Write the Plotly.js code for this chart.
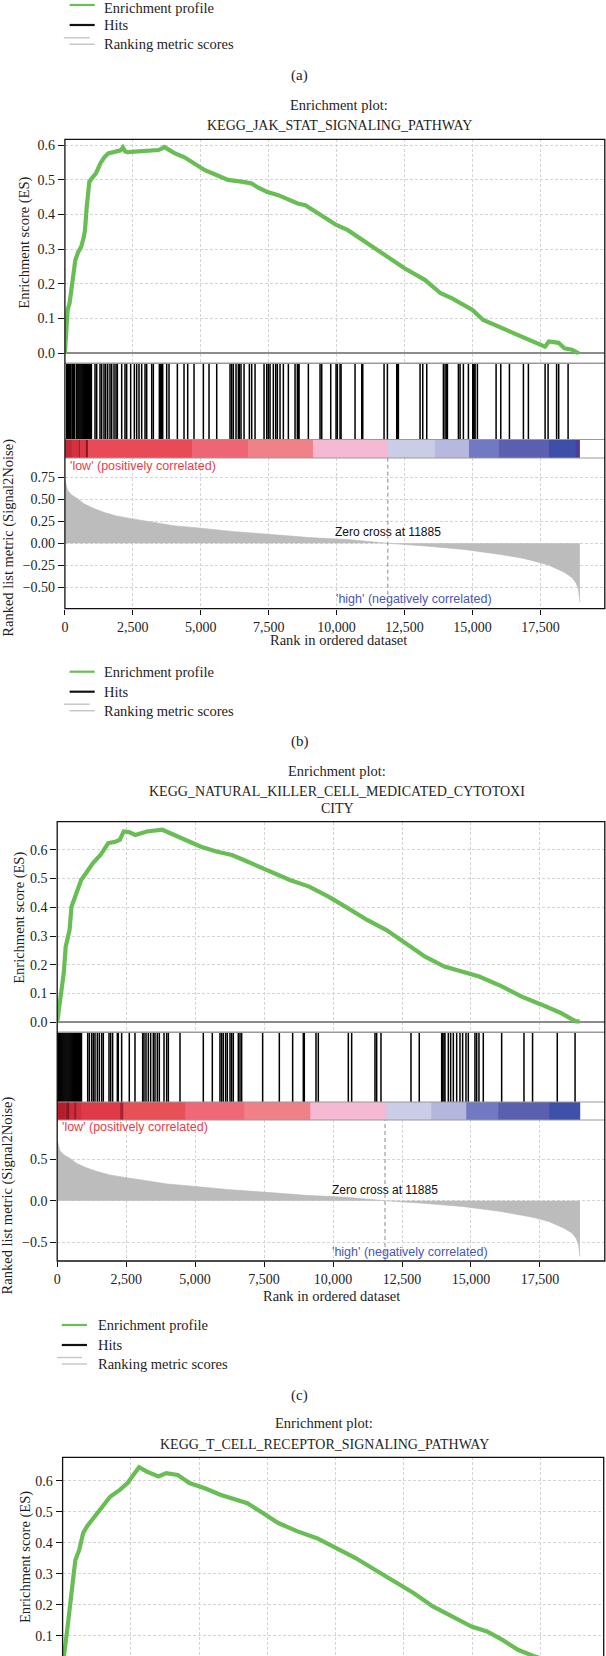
<!DOCTYPE html>
<html><head><meta charset="utf-8">
<script src="https://cdn.plot.ly/plotly-3.0.1.min.js"></script>
<style>html,body{margin:0;padding:0;background:#fff;}#chart{width:606px;height:1656px;}</style>
</head><body><div id="chart"></div>
<script>
// ---------------- DATA ----------------
const xTicks = [0, 2500, 5000, 7500, 10000, 12500, 15000, 17500];
const zeroCross = 11885;
const legendLabels = ['Enrichment profile', 'Hits', 'Ranking metric scores'];
const panelLabels = ['(a)', '(b)', '(c)'];
const plotTitle = 'Enrichment plot:';
const pathwayB = ['KEGG_JAK_STAT_SIGNALING_PATHWAY'];
const pathwayC = ['KEGG_NATURAL_KILLER_CELL_MEDICATED_CYTOTOXI', 'CITY'];
const pathwayD = ['KEGG_T_CELL_RECEPTOR_SIGNALING_PATHWAY'];
const esTitle = 'Enrichment score (ES)';
const metricTitle = 'Ranked list metric (Signal2Noise)';
const rankTitle = 'Rank in ordered dataset';
const lowLabel = "'low' (positively correlated)";
const highLabel = "'high' (negatively correlated)";

// ranked list metric (same ranked dataset in every panel)
const metricRank = [0, 40, 100, 242, 455, 700, 1025, 1450, 1900, 2450, 2830, 3300, 4000, 4900, 6150, 7600, 9000, 10500, 11885, 13260, 14700, 16100, 16850, 17250, 17820, 18380, 18670, 18810, 18900, 18930, 18952];
const metricValue = [0.72, 0.66, 0.60, 0.55, 0.51, 0.45, 0.40, 0.35, 0.31, 0.28, 0.26, 0.235, 0.20, 0.175, 0.135, 0.10, 0.065, 0.04, 0, -0.03, -0.07, -0.13, -0.17, -0.20, -0.25, -0.33, -0.39, -0.45, -0.52, -0.60, -0.67];

// (b) JAK-STAT
const esRankB = [0, 60, 100, 171, 250, 384, 480, 598, 680, 740, 800, 900, 1000, 1150, 1309, 1450, 1594, 1878, 2050, 2134, 2220, 2305, 2800, 3300, 3444, 3560, 3657, 3800, 4013, 4400, 4724, 5009, 5151, 5578, 6004, 6500, 6858, 7100, 7426, 7853, 8200, 8567, 8850, 9400, 9988, 10414, 11100, 11836, 12500, 13259, 13828, 14250, 14682, 15000, 15394, 16105, 16674, 17244, 17670, 17813, 18169, 18383, 18667, 18910];
const esValueB = [0, 0.10, 0.125, 0.144, 0.19, 0.269, 0.29, 0.307, 0.33, 0.355, 0.42, 0.495, 0.505, 0.52, 0.548, 0.565, 0.576, 0.581, 0.585, 0.594, 0.582, 0.58, 0.582, 0.584, 0.586, 0.59, 0.595, 0.588, 0.578, 0.565, 0.55, 0.538, 0.528, 0.514, 0.50, 0.495, 0.49, 0.478, 0.466, 0.456, 0.445, 0.432, 0.427, 0.40, 0.37, 0.355, 0.318, 0.278, 0.245, 0.211, 0.173, 0.158, 0.139, 0.125, 0.096, 0.072, 0.053, 0.034, 0.019, 0.034, 0.03, 0.014, 0.01, 0];
const hitsB = [66, 100, 135, 170, 205, 260, 290, 320, 350, 420, 450, 485, 520, 555, 590, 625, 660, 695, 730, 765, 800, 835, 870, 905, 940, 975,
  1108, 1170, 1292, 1354, 1439, 1501, 1575, 1660, 1722, 1808, 1881, 1930, 2090, 2212, 2273, 2420, 2556, 2642, 2728, 2826, 2949, 3010, 3194, 3255,
  3476, 3525, 3562, 3599, 3746, 3832, 4139, 4384, 4519, 4752, 5096, 5304, 5587, 6077, 6139, 6199, 6298, 6384, 6420, 6482, 6593, 6789, 6875, 6998,
  7329, 7428, 7487, 7550, 7671, 7759, 7818, 7918, 8040, 8224, 8470, 8555, 8592, 8617, 8960, 9390, 9452, 9783, 9979, 10027, 10126, 10163, 10678,
  10925, 10962, 11746, 11869, 12213, 12237, 12273, 13071, 13170, 13317, 13930, 13992, 14054, 14078, 14482, 14544, 14666, 14850, 15011, 15035,
  15060, 15097, 15181, 15869, 16041, 16360, 16875, 17058, 17673, 17783, 18096, 18173, 18519];
const bandEdgesB = [0, 270, 500, 560, 761, 860, 4666, 6750, 9143, 11869, 13622, 14850, 15955, 17814, 18807, 18952];

// (c) NK cell mediated cytotoxicity
const esRankC = [0, 98, 168, 238, 308, 378, 448, 518, 658, 869, 1079, 1289, 1569, 1849, 2100, 2270, 2410, 2600, 2830, 3050, 3250, 3811, 4231, 4600, 4932, 5212, 5772, 6333, 6613, 7000, 7454, 8434, 9135, 9835, 10536, 11236, 11937, 12637, 13338, 14038, 14739, 15299, 16140, 16840, 17540, 18241, 18802, 18942];
const esValueC = [0, 0.066, 0.112, 0.171, 0.263, 0.298, 0.321, 0.402, 0.437, 0.495, 0.524, 0.553, 0.582, 0.623, 0.628, 0.635, 0.664, 0.662, 0.652, 0.66, 0.664, 0.67, 0.652, 0.635, 0.623, 0.611, 0.594, 0.582, 0.571, 0.555, 0.536, 0.495, 0.472, 0.437, 0.397, 0.356, 0.321, 0.275, 0.228, 0.194, 0.176, 0.159, 0.124, 0.089, 0.062, 0.033, 0.003, 0.003];
const hitsC = [4, 40, 75, 110, 145, 180, 215, 250, 285, 320, 355, 390, 425, 460, 495, 530, 565, 600, 635, 670, 705, 740, 775, 810, 845, 880,
  1105, 1165, 1250, 1310, 1370, 1455, 1527, 1612, 1672, 1878, 1938, 2010, 2180, 2215, 2336, 2614, 2820, 3098, 3146, 3219, 3303, 3388, 3485, 3545,
  3630, 3702, 3872, 3968, 4029, 4452, 5297, 5623, 5901, 5962, 6022, 6107, 6167, 6264, 6324, 6385, 6566, 6627, 6687, 7448, 8053, 8536, 8922, 8958,
  9382, 9466, 10554, 10675, 11521, 11581, 11738, 12826, 13126, 13938, 13974, 14022, 14058, 14179, 14264, 14361, 14482, 14602, 14698, 14819,
  14904, 15145, 15207, 15290, 15447, 16113, 16922, 17233, 18129, 18774];
const bandEdgesC = [0, 282, 330, 420, 600, 700, 888, 2300, 2380, 4650, 6773, 9164, 11919, 13574, 14843, 15991, 17821, 18942];

// (d) T cell receptor signaling (cut off at the bottom of the figure)
const esRankD = [0, 42, 85, 184, 255, 326, 396, 467, 609, 750, 892, 1175, 1458, 1742, 2096, 2379, 2591, 2804, 3087, 3512, 3795, 4220, 4644, 5211, 5777, 6202, 6768, 7335, 7901, 8609, 9317, 10025, 10733, 11441, 12149, 12857, 13565, 14273, 14981, 15548, 16114, 16680, 17247, 17800, 18900];
const esValueD = [0, 0.039, 0.06, 0.13, 0.184, 0.238, 0.302, 0.345, 0.377, 0.431, 0.453, 0.485, 0.517, 0.549, 0.571, 0.593, 0.619, 0.644, 0.63, 0.614, 0.625, 0.619, 0.593, 0.576, 0.555, 0.544, 0.528, 0.496, 0.464, 0.437, 0.415, 0.383, 0.351, 0.313, 0.275, 0.238, 0.195, 0.162, 0.13, 0.114, 0.087, 0.055, 0.035, 0.02, 0];

const esTicksB = [0, 0.1, 0.2, 0.3, 0.4, 0.5, 0.6];
const esTicksC = [0, 0.1, 0.2, 0.3, 0.4, 0.5, 0.6];
const esTicksD = [0.1, 0.2, 0.3, 0.4, 0.5, 0.6];
const metricTicksB = [-0.5, -0.25, 0, 0.25, 0.5, 0.75];
const metricTicksC = [-0.5, 0, 0.5];

// ---------------- STYLE ----------------
const bandColorsB = ['#c42a36', '#d3323f', '#a81e2c', '#d73a46', '#8e1522', '#e84b56', '#ec6676', '#f08189', '#f5b9d3', '#cbcce6', '#b7b8de', '#7079c1', '#5b5fb0', '#3d4fa6', '#4a3d9b'];
const bandColorsC = ['#b51c2c', '#c82838', '#8e1522', '#cc2c3c', '#a01a2a', '#d03040', '#e03a48', '#a82030', '#e85058', '#ee6878', '#f08088', '#f5b9d3', '#cbcce6', '#b5b6de', '#7079c1', '#5b5fb0', '#3e50a8'];

const W = 606, H = 1656;
const fx = p => p / W, fy = p => 1 - p / H;
const SERIF = 'Liberation Serif, Times New Roman, serif';
const SANS = 'Liberation Sans, Arial, sans-serif';
const GREEN = '#68be54';
const TXT = '#1e1e1e';
const GRID = {showgrid: true, gridcolor: '#d4d4d4', griddash: '3px,2px', gridwidth: 1};

const traces = [];
const layout = {
  width: W, height: H, margin: {l: 0, r: 0, t: 0, b: 0},
  paper_bgcolor: '#fff', plot_bgcolor: '#fff', showlegend: false,
  shapes: [], annotations: []
};
const xn = n => n === 1 ? 'x' : 'x' + n;
const yn = n => n === 1 ? 'y' : 'y' + n;
const xk = n => n === 1 ? 'xaxis' : 'xaxis' + n;
const yk = n => n === 1 ? 'yaxis' : 'yaxis' + n;

function addAxes(n, P, top, bot, yrange, xopts, yopts) {
  layout[xk(n)] = Object.assign({
    domain: [fx(P.x0), fx(P.x1)], range: [0, P.xmax], anchor: yn(n),
    tickvals: xTicks, showticklabels: false, ticks: '', showline: false,
    zeroline: false, showgrid: false, fixedrange: true
  }, xopts || {});
  layout[yk(n)] = Object.assign({
    domain: [fy(bot), fy(top)], range: yrange, anchor: xn(n),
    showticklabels: false, ticks: '', showline: false, zeroline: false,
    showgrid: false, fixedrange: true
  }, yopts || {});
}

function txt(str, x, y, size, opts) {
  layout.annotations.push(Object.assign({
    text: str, x: fx(x), y: fy(y), xref: 'paper', yref: 'paper', showarrow: false,
    font: {family: SERIF, size: size, color: TXT}, xanchor: 'center', yanchor: 'middle'
  }, opts || {}));
}
function hline(x0, x1, y, color, width) {
  layout.shapes.push({type: 'line', xref: 'paper', yref: 'paper', x0: fx(x0), x1: fx(x1), y0: fy(y), y1: fy(y), line: {color: color, width: width}});
}
function frame(P, top, bot) {
  layout.shapes.push({type: 'rect', xref: 'paper', yref: 'paper', x0: fx(P.x0), x1: fx(P.x1), y0: fy(bot), y1: fy(top), line: {color: '#111', width: 1.3}, fillcolor: 'rgba(0,0,0,0)'});
}
function legendBlock(L) {
  hline(L.lx0, L.lx1, L.y[0], GREEN, 2.2);
  hline(L.lx0, L.lx1, L.y[1], '#111', 2.2);
  hline(L.gx0, L.gx1, L.y[2] - 6.5, '#c4c4c4', 1.4);
  hline(L.lx0, L.lx1, L.y[2], '#c4c4c4', 1.4);
  const ty = L.ty || L.y;
  legendLabels.forEach((s, i) => txt(s, L.tx, ty[i], 14.5, {xanchor: 'left'}));
}

function esPanel(n, P, rank, val, ticks, range, bot) {
  traces.push({type: 'scatter', mode: 'lines', x: rank, y: val, xaxis: xn(n), yaxis: yn(n),
    line: {color: GREEN, width: 4.2}, hoverinfo: 'skip'});
  addAxes(n, P, P.esTop, bot, range, GRID, Object.assign({}, GRID, {
    tickvals: ticks, tickformat: '.1f', showticklabels: true, ticks: 'outside', ticklen: 6,
    tickcolor: '#111', tickfont: {family: SERIF, size: 14, color: TXT},
    zeroline: true, zerolinecolor: '#8c8c8c', zerolinewidth: 1.5
  }));
}

function fullPanel(n, P, es, esRange, esTicks, hits, edges, colors, mTicks, mFmt, mRange) {
  esPanel(n, P, es[0], es[1], esTicks, esRange, P.esBot);
  // hits
  const hx = [], hy = [];
  hits.forEach(h => { hx.push(h, h, null); hy.push(0, 1, null); });
  traces.push({type: 'scatter', mode: 'lines', x: hx, y: hy, xaxis: xn(n + 1), yaxis: yn(n + 1),
    line: {color: '#000', width: 1.5}, hoverinfo: 'skip'});
  addAxes(n + 1, P, P.esBot, P.hitsBot, [0, 1]);
  // colour bar
  const nb = colors.length, cs = [];
  colors.forEach((c, i) => { cs.push([i / nb, c]); cs.push([(i + 1) / nb, c]); });
  traces.push({type: 'heatmap', x: edges, y: [0, 1], z: [colors.map((c, i) => i + 0.5)],
    zmin: 0, zmax: nb, colorscale: cs, showscale: false, xaxis: xn(n + 2), yaxis: yn(n + 2), hoverinfo: 'skip'});
  addAxes(n + 2, P, P.hitsBot, P.cbBot, [0, 1]);
  // ranked metric
  traces.push({type: 'scatter', mode: 'lines', x: metricRank, y: metricValue, fill: 'tozeroy',
    fillcolor: '#bcbcbc', line: {color: '#b8b8b8', width: 0.6}, xaxis: xn(n + 3), yaxis: yn(n + 3), hoverinfo: 'skip'});
  addAxes(n + 3, P, P.cbBot, P.rkBot, mRange,
    Object.assign({}, GRID, {showticklabels: true, tickformat: ',', ticks: 'outside', ticklen: 5, tickcolor: '#111',
      tickfont: {family: SERIF, size: 14, color: TXT}}),
    Object.assign({}, GRID, {tickvals: mTicks, tickformat: mFmt, showticklabels: true, ticks: 'outside', ticklen: 6,
      tickcolor: '#111', tickfont: {family: SERIF, size: 14, color: TXT}}));
  layout.shapes.push({type: 'line', xref: xn(n + 3), yref: yn(n + 3) + ' domain', x0: zeroCross, x1: zeroCross, y0: 0, y1: 1,
    line: {color: '#8a8a8a', width: 1, dash: '4px,3px'}});
  layout.annotations.push({text: 'Zero cross at ' + zeroCross, xref: xn(n + 3), yref: yn(n + 3), x: zeroCross, y: 0,
    yanchor: 'bottom', xanchor: 'center', yshift: 2, showarrow: false, font: {family: SANS, size: 12, color: '#111'}});
  // separators and frame
  hline(P.x0, P.x1, P.esBot, '#9a9a9a', 1.6);
  hline(P.x0, P.x1, P.hitsBot, '#9a9a9a', 1.2);
  hline(P.x0, P.x1, P.cbBot, '#9a9a9a', 1.2);
  frame(P, P.esTop, P.rkBot);
}

// ---------------- PANELS ----------------
const PB = {x0: 64.9, x1: 604.8, xmax: 19870, esTop: 139.3, esBot: 363.3, hitsBot: 439.5, cbBot: 458, rkBot: 608.7};
const PC = {x0: 57.2, x1: 604.8, xmax: 19852, esTop: 821.7, esBot: 1032.3, hitsBot: 1102, cbBot: 1120, rkBot: 1261};
const PD = {x0: 62.6, x1: 603.7, xmax: 19823, esTop: 1457.3};

fullPanel(1, PB, [esRankB, esValueB], [-0.029, 0.617], esTicksB, hitsB, bandEdgesB, bandColorsB, metricTicksB, '.2f', [-0.743, 0.969]);
fullPanel(5, PC, [esRankC, esValueC], [-0.035, 0.698], esTicksC, hitsC, bandEdgesC, bandColorsC, metricTicksC, '.1f', [-0.724, 0.969]);
esPanel(9, PD, esRankD, esValueD, esTicksD, [0.035, 0.676], H);
frame(PD, PD.esTop, H + 5);

// ---------------- TEXT ----------------
// legend of (a) (top of the figure, partly cut in the source)
legendBlock({y: [5, 25, 44.3], ty: [8.5, 25, 44.3], lx0: 69.6, lx1: 94.7, gx0: 63.8, gx1: 89.7, tx: 102.4});
txt(panelLabels[0], 299.5, 76, 15);
// (b)
txt(plotTitle, 339, 105, 14.5);
txt(pathwayB[0], 339, 125, 14);
txt(esTitle, 24.7, 243, 14.5, {textangle: -90});
txt(metricTitle, 7.7, 538, 14.5, {textangle: -90});
txt(lowLabel, 67.6, 466, 12.5, {xanchor: 'left', font: {family: SANS, size: 12.5, color: '#e8404a'}});
txt(highLabel, 334, 599, 12.5, {xanchor: 'left', font: {family: SANS, size: 12.5, color: '#4a58b4'}});
txt(rankTitle, 338, 640, 14.5);
legendBlock({y: [671.7, 691.7, 710.7], lx0: 69.6, lx1: 94.7, gx0: 63.8, gx1: 89.7, tx: 102.4});
txt(panelLabels[1], 299.5, 741.7, 15);
// (c)
txt(plotTitle, 337, 770.7, 14.5);
txt(pathwayC[0], 337.4, 791.7, 14);
txt(pathwayC[1], 337, 808.3, 14);
txt(esTitle, 19.3, 917.5, 14.5, {textangle: -90});
txt(metricTitle, 7.7, 1195.7, 14.5, {textangle: -90});
txt(lowLabel, 60, 1126.7, 12.5, {xanchor: 'left', font: {family: SANS, size: 12.5, color: '#e8404a'}});
txt(highLabel, 330.4, 1251.7, 12.5, {xanchor: 'left', font: {family: SANS, size: 12.5, color: '#4a58b4'}});
txt(rankTitle, 331, 1296, 14.5);
legendBlock({y: [1325, 1345, 1364], lx0: 61.8, lx1: 87, gx0: 57.2, gx1: 82, tx: 95.8});
txt(panelLabels[2], 299.5, 1395, 15);
// (d)
txt(plotTitle, 324, 1423.3, 14.5);
txt(pathwayD[0], 324, 1444.3, 14);
txt(esTitle, 25, 1557, 14.5, {textangle: -90});

Plotly.newPlot('chart', traces, layout, {staticPlot: true, displayModeBar: false});
</script></body></html>
